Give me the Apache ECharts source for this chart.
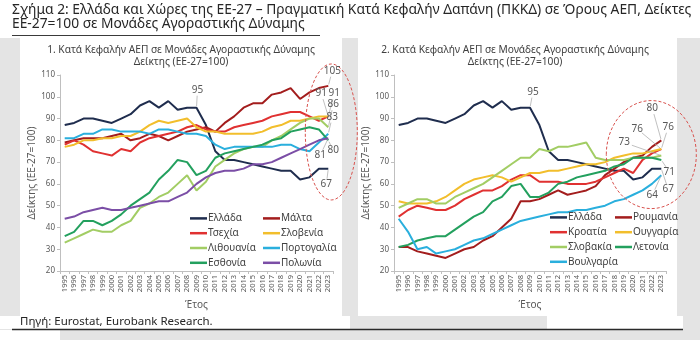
<!DOCTYPE html>
<html><head><meta charset="utf-8">
<script src="https://cdn.jsdelivr.net/npm/echarts@6/dist/echarts.min.js"></script>
<style>html,body{margin:0;padding:0;background:#fff}#c{width:700px;height:340px}</style>
</head><body><div id="c"></div>
<script>
// ---- data ----
const years = ['1995','1996','1997','1998','1999','2000','2001','2002','2003','2004','2005','2006','2007','2008','2009','2010','2011','2012','2013','2014','2015','2016','2017','2018','2019','2020','2021','2022','2023'];
const greece    = [87,88,90,90,89,88,90,92,96,98,95,98,94,95,95,87,75,71,71,70,69,68,67,66,66,62,63,67,67];
const malta     = [79,80,81,81,81,82,83,80,81,83,82,80,82,84,85,86,84,88,91,95,97,97,101,102,104,99,102,104,105];
const czechia   = [78,80,78,75,74,73,76,75,79,81,82,83,84,86,87,85,84,84,86,87,88,89,91,92,93,93,91,89,91];
const slovenia  = [77,78,80,80,81,81,82,82,84,87,89,88,89,90,86,84,84,83,83,83,83,84,86,87,89,89,90,91,91];
const lithuania = [33,35,37,39,38,38,41,43,49,51,54,56,60,64,57,61,68,71,74,76,77,77,80,82,85,88,90,90,86];
const portugal  = [81,81,83,83,85,85,84,84,84,83,85,85,84,83,83,82,78,76,77,77,77,77,77,78,78,76,75,79,83];
const estonia   = [36,38,43,43,41,43,46,50,53,56,62,66,71,70,64,66,72,74,75,76,77,78,80,81,84,85,86,85,80];
const poland    = [44,45,47,48,49,48,48,49,50,51,52,52,54,56,60,63,65,66,66,67,69,69,70,72,74,76,78,80,81];
const romania   = [31,31,29,28,27,26,28,30,31,34,36,40,44,52,52,53,55,57,55,56,57,59,64,67,70,72,73,77,80];
const croatia   = [45,48,50,49,48,48,50,53,55,57,57,59,62,64,64,61,61,61,60,60,60,61,63,65,67,65,71,74,76];
const hungary   = [52,51,51,51,52,54,57,60,62,63,64,63,61,63,65,65,66,66,67,68,69,69,70,72,73,74,74,75,76];
const slovakia  = [49,51,53,53,51,51,54,56,58,60,63,66,69,72,72,76,75,77,77,78,79,72,71,71,71,72,72,72,73];
const latvia    = [31,32,34,35,36,36,39,42,45,47,52,54,59,60,54,54,56,60,61,63,64,65,66,68,69,72,72,72,71];
const bulgaria  = [44,38,30,31,28,29,30,32,34,35,37,39,41,43,44,45,46,47,47,48,48,49,50,52,53,55,57,60,64];

const mainTitle = 'Σχήμα 2: Ελλάδα και Χώρες της ΕΕ-27 – Πραγματική Κατά Κεφαλήν Δαπάνη (ΠΚΚΔ) σε Όρους ΑΕΠ, Δείκτες\nΕΕ-27=100 σε Μονάδες Αγοραστικής Δύναμης';
const subTitle1 = '1. Κατά Κεφαλήν ΑΕΠ σε Μονάδες Αγοραστικής Δύναμης\nΔείκτης (ΕΕ-27=100)';
const subTitle2 = '2. Κατά Κεφαλήν ΑΕΠ σε Μονάδες Αγοραστικής Δύναμης\nΔείκτης (ΕΕ-27=100)';
const yName = 'Δείκτης (ΕΕ-27=100)';
const xName = 'Έτος';
const source = 'Πηγή: Eurostat, Eurobank Research.';

// ---- styles ----
const FONT = "'Noto Sans', 'DejaVu Sans', sans-serif";
const C = {navy:'#1F2D4E', dred:'#A31D1D', red:'#E03131', yellow:'#F2BE2C', lgreen:'#A2CD64', cyan:'#2AAFDD', green:'#23A05E', purple:'#7B4EA6'};

const left = [
  ['Ελλάδα', greece, C.navy], ['Μάλτα', malta, C.dred], ['Τσεχία', czechia, C.red], ['Σλοβενία', slovenia, C.yellow],
  ['Λιθουανία', lithuania, C.lgreen], ['Πορτογαλία', portugal, C.cyan], ['Εσθονία', estonia, C.green], ['Πολωνία', poland, C.purple]
];
const right = [
  ['Ελλάδα', greece, C.navy], ['Ρουμανία', romania, C.dred], ['Κροατία', croatia, C.red], ['Ουγγαρία', hungary, C.yellow],
  ['Σλοβακία', slovakia, C.lgreen], ['Λετονία', latvia, C.green], ['Βουλγαρία', bulgaria, C.cyan]
];

function mkSeries(list, idx) {
  return list.map(([name, data, color]) => ({
    type: 'line', name, data, xAxisIndex: idx, yAxisIndex: idx,
    symbol: 'none', smooth: false, color,
    lineStyle: {width: 2, color}, z: 3
  }));
}

function xAx(idx) {
  return {
    type: 'category', gridIndex: idx, data: years, boundaryGap: true,
    axisLine: {lineStyle: {color: '#bfbfbf'}}, axisTick: {show: true, length: 3, lineStyle: {color: '#bfbfbf'}},
    axisLabel: {rotate: 90, interval: 0, fontSize: 7.5, color: '#595959', fontFamily: FONT, margin: 4},
    name: xName, nameLocation: 'middle', nameGap: 24,
    nameTextStyle: {fontSize: 10, color: '#595959', fontFamily: FONT}
  };
}
function yAx(idx) {
  return {
    type: 'value', gridIndex: idx, min: 20, max: 110, interval: 10,
    axisLine: {show: true, lineStyle: {color: '#bfbfbf'}}, axisTick: {show: true, length: 3, lineStyle: {color: '#bfbfbf'}},
    splitLine: {show: false},
    axisLabel: {fontSize: 8, color: '#595959', fontFamily: FONT, margin: 5},
    name: yName, nameLocation: 'middle', nameRotate: 90, nameGap: 23,
    nameTextStyle: {fontSize: 10, color: '#595959', fontFamily: FONT}
  };
}
function legend(data, l, t) {
  return {
    data, orient: 'vertical', left: l, top: t, icon: 'rect', itemWidth: 17, itemHeight: 2.5,
    itemGap: 0, selectedMode: false,
    textStyle: {fontSize: 10, color: '#404040', fontFamily: FONT, lineHeight: 14.8, padding: [0,0,0,-4]}
  };
}

const chart = echarts.init(document.getElementById('c'), null, {renderer: 'canvas'});
const bg = [
  {type:'rect', shape:{x:0,y:0,width:700,height:340}, style:{fill:'#e4e4e4'}, z:-10, silent:true},
  {type:'rect', shape:{x:0,y:0,width:700,height:38}, style:{fill:'#ffffff'}, z:-9, silent:true},
  {type:'rect', shape:{x:20,y:38,width:322,height:278}, style:{fill:'#ffffff'}, z:-9, silent:true},
  {type:'rect', shape:{x:358,y:38,width:319,height:278}, style:{fill:'#ffffff'}, z:-9, silent:true},
  {type:'rect', shape:{x:0,y:316,width:350,height:13}, style:{fill:'#ffffff'}, z:-9, silent:true},
  {type:'rect', shape:{x:547,y:316,width:136,height:13}, style:{fill:'#ffffff'}, z:-9, silent:true},
  {type:'rect', shape:{x:0,y:330,width:60,height:10}, style:{fill:'#ffffff'}, z:-9, silent:true},
  {type:'line', shape:{x1:12,y1:35.5,x2:320,y2:35.5}, style:{stroke:'#3a3a3a', lineWidth:1.2}, z:-8, silent:true},
  {type:'line', shape:{x1:12,y1:329.5,x2:683,y2:329.5}, style:{stroke:'#2a2a2a', lineWidth:1.5}, z:-8, silent:true},
  {type:'text', left: 20, top: 316, style:{text: source, fontSize: 11.5, fill:'#262626', fontFamily: FONT}, z: 10}
];

chart.setOption({
  animation: false,
  textStyle: {fontFamily: FONT},
  title: [
    {text: mainTitle, left: 12, top: 3, padding: 0, textStyle: {fontSize: 13.8, fontWeight: 'normal', color: '#262626', fontFamily: FONT, lineHeight: 14}},
    {text: subTitle1, left: 181, top: 44, padding: 0, textAlign: 'center', textStyle: {fontSize: 10.2, fontWeight: 'normal', color: '#404040', fontFamily: FONT, lineHeight: 12, align: 'center'}},
    {text: subTitle2, left: 515, top: 44, padding: 0, textAlign: 'center', textStyle: {fontSize: 10.2, fontWeight: 'normal', color: '#404040', fontFamily: FONT, lineHeight: 12, align: 'center'}}
  ],
  grid: [
    {left: 60, top: 75, width: 273, height: 196},
    {left: 394, top: 75, width: 272, height: 196}
  ],
  xAxis: [xAx(0), xAx(1)],
  yAxis: [yAx(0), yAx(1)],
  legend: [
    legend(['Ελλάδα','Τσεχία','Λιθουανία','Εσθονία'], 185, 206),
    legend(['Μάλτα','Σλοβενία','Πορτογαλία','Πολωνία'], 258, 206),
    legend(['Ελλάδα','Κροατία','Σλοβακία','Βουλγαρία'], 545, 205),
    legend(['Ρουμανία','Ουγγαρία','Λετονία'], 610, 205)
  ],
  series: [...mkSeries(left, 0), ...mkSeries(right, 1)],
  graphic: bg
});

// ---- annotations (label offsets are styling) ----
const notes = [
  [0, greece, 14, 1, -18], [0, malta, 28, 4, -15], [0, czechia, 28, -7, -23], [0, slovenia, 28, 6, -23],
  [0, lithuania, 28, 5, -23], [0, portugal, 28, 4, -17], [0, poland, 28, -8, 17], [0, estonia, 28, 5, 10],
  [0, greece, 28, -2, 16],
  [1, greece, 14, 3, -16], [1, romania, 28, -9, -32], [1, croatia, 28, -24, -20], [1, hungary, 28, 7, -22],
  [1, slovakia, 28, -37, -13], [1, latvia, 28, 8, 12], [1, greece, 28, 7, 21], [1, bulgaria, 28, -9, 20]
];
const extra = [];
notes.forEach(([g, arr, i, dx, dy]) => {
  const p = chart.convertToPixel({xAxisIndex: g, yAxisIndex: g}, [i, arr[i]]);
  const lx = p[0] + dx, ly = p[1] + dy;
  const len = Math.hypot(dx, dy), ux = dx / len, uy = dy / len;
  const back = Math.abs(uy) > 0.6 ? 6 : 8;
  extra.push({type: 'line', shape: {x1: p[0] + ux * 1.5, y1: p[1] + uy * 1.5, x2: lx - ux * back, y2: ly - uy * back},
    style: {stroke: '#b0b0b0', lineWidth: 0.8}, z: 50, silent: true});
  extra.push({type: 'text', x: lx, y: ly, style: {text: String(arr[i]), fontSize: 10, fill: '#595959', fontFamily: FONT,
    align: 'center', verticalAlign: 'middle'}, z: 51, silent: true});
});
// dashed highlight ellipses around the latest values
const e1 = chart.convertToPixel({xAxisIndex: 0, yAxisIndex: 0}, [28, 82]);
const e2 = chart.convertToPixel({xAxisIndex: 1, yAxisIndex: 1}, [28, 73]);
extra.push({type: 'ellipse', shape: {cx: e1[0] + 3, cy: e1[1] - 4, rx: 26, ry: 68}, style: {fill: 'none', stroke: '#D9534F', lineWidth: 1, lineDash: [3, 2]}, z: 40, silent: true});
extra.push({type: 'ellipse', shape: {cx: e2[0] - 10, cy: e2[1] - 1, rx: 45, ry: 54}, style: {fill: 'none', stroke: '#D9534F', lineWidth: 1, lineDash: [3, 2]}, z: 40, silent: true});

chart.setOption({graphic: bg.concat(extra)}, {replaceMerge: ['graphic']});
</script></body></html>
